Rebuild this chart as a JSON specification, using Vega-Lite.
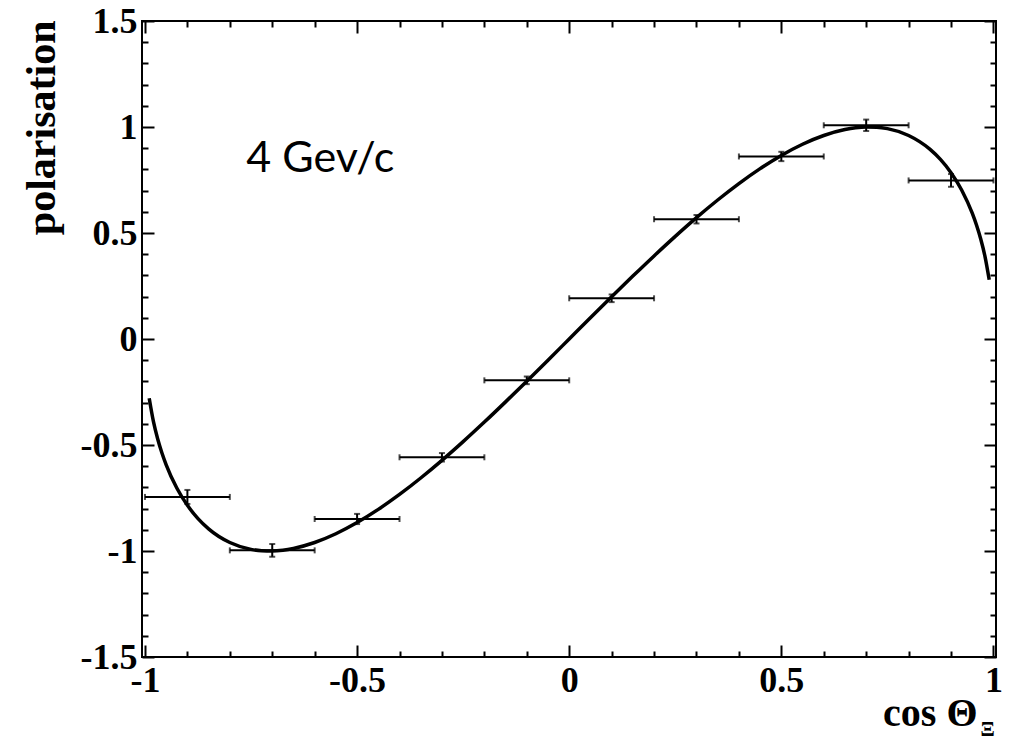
{
  "$schema": "https://vega.github.io/schema/vega-lite/v6.json",
  "autosize": "none",
  "width": 854,
  "height": 636,
  "padding": {"left": 142, "top": 21, "right": 14, "bottom": 83},
  "background": "white",
  "config": {
    "view": {"stroke": "black", "strokeWidth": 2},
    "axis": {"grid": false, "domain": false, "tickColor": "black", "tickWidth": 2, "labelColor": "black", "titleColor": "black"}
  },
  "datasets": {
    "points": [
      {"x": -0.9, "xlo": -1.0, "xhi": -0.8, "y": -0.745, "ylo": -0.778, "yhi": -0.712},
      {"x": -0.7, "xlo": -0.8, "xhi": -0.6, "y": -0.997, "ylo": -1.027, "yhi": -0.967},
      {"x": -0.5, "xlo": -0.6, "xhi": -0.4, "y": -0.849, "ylo": -0.873, "yhi": -0.825},
      {"x": -0.3, "xlo": -0.4, "xhi": -0.2, "y": -0.558, "ylo": -0.578, "yhi": -0.538},
      {"x": -0.1, "xlo": -0.2, "xhi": 0.0, "y": -0.195, "ylo": -0.213, "yhi": -0.177},
      {"x": 0.1, "xlo": 0.0, "xhi": 0.2, "y": 0.192, "ylo": 0.174, "yhi": 0.21},
      {"x": 0.3, "xlo": 0.2, "xhi": 0.4, "y": 0.565, "ylo": 0.545, "yhi": 0.585},
      {"x": 0.5, "xlo": 0.4, "xhi": 0.6, "y": 0.861, "ylo": 0.839, "yhi": 0.883},
      {"x": 0.7, "xlo": 0.6, "xhi": 0.8, "y": 1.008, "ylo": 0.981, "yhi": 1.035},
      {"x": 0.9, "xlo": 0.8, "xhi": 1.0, "y": 0.748, "ylo": 0.718, "yhi": 0.778}
    ],
    "curve": [
      {"x": -0.99, "y": -0.2793}, {"x": -0.98, "y": -0.39}, {"x": -0.97, "y": -0.4716},
      {"x": -0.96, "y": -0.5376}, {"x": -0.95, "y": -0.5933}, {"x": -0.925, "y": -0.7029},
      {"x": -0.9, "y": -0.7846}, {"x": -0.875, "y": -0.8472}, {"x": -0.85, "y": -0.8955},
      {"x": -0.8, "y": -0.96}, {"x": -0.75, "y": -0.9922}, {"x": -0.725, "y": -0.9987},
      {"x": -0.7, "y": -0.9998}, {"x": -0.675, "y": -0.9961}, {"x": -0.65, "y": -0.9879},
      {"x": -0.6, "y": -0.96}, {"x": -0.55, "y": -0.9187}, {"x": -0.5, "y": -0.866},
      {"x": -0.45, "y": -0.8037}, {"x": -0.4, "y": -0.7332}, {"x": -0.35, "y": -0.6557},
      {"x": -0.3, "y": -0.5724}, {"x": -0.25, "y": -0.4841}, {"x": -0.2, "y": -0.3919},
      {"x": -0.15, "y": -0.2966}, {"x": -0.1, "y": -0.199}, {"x": -0.05, "y": -0.0999},
      {"x": 0.0, "y": 0.0},
      {"x": 0.05, "y": 0.0999}, {"x": 0.1, "y": 0.199}, {"x": 0.15, "y": 0.2966},
      {"x": 0.2, "y": 0.3919}, {"x": 0.25, "y": 0.4841}, {"x": 0.3, "y": 0.5724},
      {"x": 0.35, "y": 0.6557}, {"x": 0.4, "y": 0.7332}, {"x": 0.45, "y": 0.8037},
      {"x": 0.5, "y": 0.866}, {"x": 0.55, "y": 0.9187}, {"x": 0.6, "y": 0.96},
      {"x": 0.65, "y": 0.9879}, {"x": 0.675, "y": 0.9961}, {"x": 0.7, "y": 0.9998},
      {"x": 0.725, "y": 0.9987}, {"x": 0.75, "y": 0.9922}, {"x": 0.8, "y": 0.96},
      {"x": 0.85, "y": 0.8955}, {"x": 0.875, "y": 0.8472}, {"x": 0.9, "y": 0.7846},
      {"x": 0.925, "y": 0.7029}, {"x": 0.95, "y": 0.5933}, {"x": 0.96, "y": 0.5376},
      {"x": 0.97, "y": 0.4716}, {"x": 0.98, "y": 0.39}, {"x": 0.99, "y": 0.2793}
    ]
  },
  "resolve": {"axis": {"x": "independent", "y": "independent"}},
  "layer": [
    {
      "description": "zero line",
      "mark": {"type": "rule", "color": "black", "strokeWidth": 2},
      "encoding": {
        "y": {"datum": 0, "type": "quantitative", "scale": {"domain": [-1.5, 1.5], "nice": false, "zero": false}, "axis": null}
      }
    },
    {
      "description": "horizontal bin-width bars; carries the mirrored top and right axes",
      "data": {"name": "points"},
      "mark": {"type": "rule", "color": "black", "strokeWidth": 2},
      "encoding": {
        "x": {
          "field": "xlo", "type": "quantitative",
          "scale": {"domain": [-1.007, 1.006], "nice": false, "zero": false},
          "axis": {
            "orient": "top", "labels": false, "title": null,
            "values": [-1, -0.9, -0.8, -0.7, -0.6, -0.5, -0.4, -0.3, -0.2, -0.1, 0, 0.1, 0.2, 0.3, 0.4, 0.5, 0.6, 0.7, 0.8, 0.9, 1],
            "tickSize": {"condition": {"test": "abs(datum.value*2 - round(datum.value*2)) < 1e-6", "value": -12}, "value": -6}
          }
        },
        "x2": {"field": "xhi"},
        "y": {
          "field": "y", "type": "quantitative",
          "scale": {"domain": [-1.5, 1.5], "nice": false, "zero": false},
          "axis": {
            "orient": "right", "labels": false, "title": null,
            "values": [-1.5, -1.4, -1.3, -1.2, -1.1, -1, -0.9, -0.8, -0.7, -0.6, -0.5, -0.4, -0.3, -0.2, -0.1, 0, 0.1, 0.2, 0.3, 0.4, 0.5, 0.6, 0.7, 0.8, 0.9, 1, 1.1, 1.2, 1.3, 1.4, 1.5],
            "tickSize": {"condition": {"test": "abs(datum.value*2 - round(datum.value*2)) < 1e-6", "value": -12}, "value": -6}
          }
        }
      }
    },
    {
      "description": "vertical error bars",
      "data": {"name": "points"},
      "mark": {"type": "rule", "color": "black", "strokeWidth": 2},
      "encoding": {
        "x": {"field": "x", "type": "quantitative", "axis": null},
        "y": {"field": "ylo", "type": "quantitative", "axis": null},
        "y2": {"field": "yhi"}
      }
    },
    {
      "data": {"name": "points"},
      "mark": {"type": "tick", "orient": "vertical", "color": "black", "size": 6, "thickness": 2},
      "encoding": {
        "x": {"field": "xlo", "type": "quantitative", "axis": null},
        "y": {"field": "y", "type": "quantitative", "axis": null}
      }
    },
    {
      "data": {"name": "points"},
      "mark": {"type": "tick", "orient": "vertical", "color": "black", "size": 6, "thickness": 2},
      "encoding": {
        "x": {"field": "xhi", "type": "quantitative", "axis": null},
        "y": {"field": "y", "type": "quantitative", "axis": null}
      }
    },
    {
      "data": {"name": "points"},
      "mark": {"type": "tick", "orient": "horizontal", "color": "black", "size": 6, "thickness": 2},
      "encoding": {
        "x": {"field": "x", "type": "quantitative", "axis": null},
        "y": {"field": "ylo", "type": "quantitative", "axis": null}
      }
    },
    {
      "data": {"name": "points"},
      "mark": {"type": "tick", "orient": "horizontal", "color": "black", "size": 6, "thickness": 2},
      "encoding": {
        "x": {"field": "x", "type": "quantitative", "axis": null},
        "y": {"field": "yhi", "type": "quantitative", "axis": null}
      }
    },
    {
      "description": "fitted curve with the labelled bottom and left axes",
      "data": {"name": "curve"},
      "mark": {"type": "line", "color": "black", "strokeWidth": 3.5, "interpolate": "monotone"},
      "encoding": {
        "x": {
          "field": "x", "type": "quantitative",
          "axis": {
            "orient": "bottom",
            "values": [-1, -0.9, -0.8, -0.7, -0.6, -0.5, -0.4, -0.3, -0.2, -0.1, 0, 0.1, 0.2, 0.3, 0.4, 0.5, 0.6, 0.7, 0.8, 0.9, 1],
            "tickSize": {"condition": {"test": "abs(datum.value*2 - round(datum.value*2)) < 1e-6", "value": -12}, "value": -6},
            "labelExpr": "abs(datum.value*2 - round(datum.value*2)) < 1e-6 ? '' + datum.value : ''",
            "labelFont": "Liberation Serif", "labelFontWeight": "bold", "labelFontSize": 36,
            "labelPadding": 18, "labelBaseline": "top", "labelFlush": false, "labelOverlap": false, "labelBound": false,
            "title": "cos Θ", "titleFont": "Liberation Serif", "titleFontWeight": "bold", "titleFontSize": 40,
            "titleX": 835, "titleY": 68, "titleAlign": "right", "titleBaseline": "alphabetic", "titleAnchor": "end"
          }
        },
        "y": {
          "field": "y", "type": "quantitative",
          "axis": {
            "orient": "left",
            "values": [-1.5, -1.4, -1.3, -1.2, -1.1, -1, -0.9, -0.8, -0.7, -0.6, -0.5, -0.4, -0.3, -0.2, -0.1, 0, 0.1, 0.2, 0.3, 0.4, 0.5, 0.6, 0.7, 0.8, 0.9, 1, 1.1, 1.2, 1.3, 1.4, 1.5],
            "tickSize": {"condition": {"test": "abs(datum.value*2 - round(datum.value*2)) < 1e-6", "value": -12}, "value": -6},
            "labelExpr": "abs(datum.value*2 - round(datum.value*2)) < 1e-6 ? '' + datum.value : ''",
            "labelFont": "Liberation Serif", "labelFontWeight": "bold", "labelFontSize": 36,
            "labelPadding": 17, "labelAlign": "right", "labelBaseline": "middle", "labelOverlap": false, "labelBound": false, "labelFlush": false,
            "title": "polarisation", "titleFont": "Liberation Serif", "titleFontWeight": "bold", "titleFontSize": 42,
            "titleAngle": -90, "titleX": -88, "titleY": -1, "titleAlign": "right", "titleBaseline": "alphabetic", "titleAnchor": "end"
          }
        }
      }
    },
    {
      "description": "momentum annotation",
      "data": {"values": [{"label": "4 Gev/c"}]},
      "mark": {"type": "text", "font": "Lato", "fontSize": 43, "align": "left", "baseline": "alphabetic", "color": "black"},
      "encoding": {
        "x": {"datum": -0.761, "type": "quantitative", "axis": null},
        "y": {"datum": 0.788, "type": "quantitative", "axis": null},
        "text": {"field": "label"}
      }
    },
    {
      "description": "subscript of the x-axis title",
      "data": {"values": [{"label": "Ξ"}]},
      "mark": {"type": "text", "font": "Liberation Serif", "fontWeight": "bold", "fontSize": 21, "align": "left", "baseline": "alphabetic", "color": "black", "dx": -13, "dy": 79},
      "encoding": {
        "x": {"datum": 1, "type": "quantitative", "axis": null},
        "y": {"datum": -1.5, "type": "quantitative", "axis": null},
        "text": {"field": "label"}
      }
    }
  ]
}
